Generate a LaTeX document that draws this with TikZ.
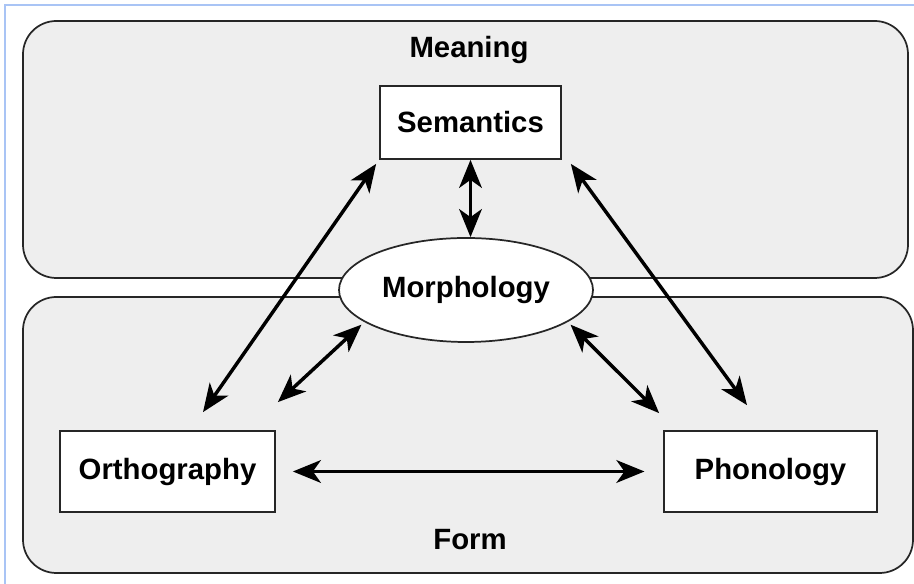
\documentclass[tikz,border=0pt]{standalone}
\usepackage{fontspec}
\setmainfont{Liberation Sans}
\usetikzlibrary{arrows.meta,shapes.geometric}
\definecolor{regiongray}{HTML}{EEEEEE}
\definecolor{frameblue}{HTML}{A9C4F5}
\begin{document}
\begin{tikzpicture}[x=0.75pt,y=0.75pt,
  region/.style={draw=black!85,line width=1.3pt,fill=regiongray,rounded corners=25pt},
  box/.style={draw=black!85,line width=1.3pt,fill=white,inner sep=0pt,font=\fontsize{22}{26}\selectfont\bfseries},
  regiontext/.style={anchor=base,font=\fontsize{22}{26}\selectfont\bfseries},
  link/.style={line width=2.6pt,{Stealth[length=21pt,width=17pt,inset=6pt]}-{Stealth[length=21pt,width=17pt,inset=6pt]}}]
\useasboundingbox (0,0) rectangle (914,584);
\draw[frameblue,line width=1pt] (5,0)--(5,579)--(914,579);
% meaning and form
\draw[region] (23,306) rectangle (908,563);
\draw[region] (23,11) rectangle (913,287);
\node[regiontext] (meaning) at (469,526) {Meaning};
\node[regiontext] (form) at (470,34) {Form};
% the four parts
\node[box,minimum width=135.75pt,minimum height=54.75pt] (sem) at (470.5,461.5) {Semantics};
\node[box,ellipse,minimum width=190.5pt,minimum height=78pt] (morph) at (466,294) {Morphology};
\node[box,minimum width=161.25pt,minimum height=60.75pt] (orth) at (167.5,112.5) {Orthography};
\node[box,minimum width=159.75pt,minimum height=60.75pt] (phon) at (770.5,112.5) {Phonology};
% links
\draw[link] ([shift={(35.5,18)}]orth.north) -- ([shift={(-3,-4)}]sem.south west);
\draw[link] (sem.south) -- (sem.south |- morph.north);
\draw[link] ([shift={(-23.5,25)}]phon.north) -- ([shift={(9,-4)}]sem.south east);
\draw[link] ([shift={(2,28)}]orth.north east) -- ([shift={(-4,-2)}]morph.198);
\draw[link] ([shift={(-4,17)}]phon.north west) -- ([shift={(4,-2)}]morph.342);
\draw[link,shorten <=12.75pt,shorten >=14pt] (orth.east) -- (phon.west);
\end{tikzpicture}
\end{document}
